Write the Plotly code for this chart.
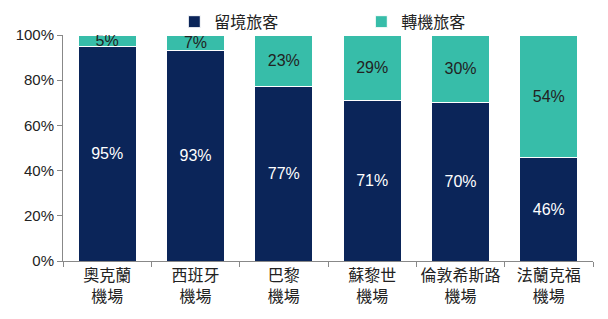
import plotly.graph_objects as go

categories = ["奧克蘭<br>機場", "西班牙<br>機場", "巴黎<br>機場", "蘇黎世<br>機場", "倫敦希斯路<br>機場", "法蘭克福<br>機場"]
stay = [95, 93, 77, 71, 70, 46]
transfer = [5, 7, 23, 29, 30, 54]
tick_vals = [0, 20, 40, 60, 80, 100]
tick_text = ["0%", "20%", "40%", "60%", "80%", "100%"]

font_family = "Liberation Sans, Arial, Noto Sans CJK TC, sans-serif"

fig = go.Figure()
fig.add_trace(go.Bar(
    x=categories, y=stay, name="留境旅客",
    marker=dict(color="#0B2559", line=dict(color="white", width=1)),
    text=[f"{v}%" for v in stay], textposition="inside", insidetextanchor="middle",
    textfont=dict(color="white", size=16, family=font_family),
))
fig.add_trace(go.Bar(
    x=categories, y=transfer, name="轉機旅客",
    marker=dict(color="#37BDA9", line=dict(color="white", width=1)),
    text=[f"{v}%" for v in transfer], textposition="inside", insidetextanchor="middle",
    textfont=dict(color="#222222", size=16, family=font_family),
))

fig.update_layout(
    barmode="stack", bargap=0.34,
    width=608, height=319,
    margin=dict(l=63, r=15, t=35, b=58, autoexpand=False),
    plot_bgcolor="white", paper_bgcolor="white",
    font=dict(family=font_family, size=15, color="#222222"),
    uniformtext=dict(mode="show", minsize=16),
    showlegend=True,
    legend=dict(orientation="h", traceorder="normal", x=0.21, xanchor="left",
                yref="container", y=0.985, yanchor="top", bgcolor="rgba(0,0,0,0)",
                font=dict(size=16, color="#222222"), entrywidth=142, entrywidthmode="pixels",
                itemwidth=30),
    xaxis=dict(showline=True, linecolor="#888888", linewidth=1, ticks="outside",
               tickson="boundaries", ticklen=5, tickcolor="#888888", tickangle=0,
               tickfont=dict(size=16, color="#222222")),
    yaxis=dict(range=[0, 100], tickvals=tick_vals, ticktext=tick_text, showgrid=False,
               showline=True, linecolor="#888888", linewidth=1, ticks="outside",
               ticklen=5, tickcolor="#888888", zeroline=False,
               tickfont=dict(size=15, color="#222222")),
)

fig.write_html("out.html")
